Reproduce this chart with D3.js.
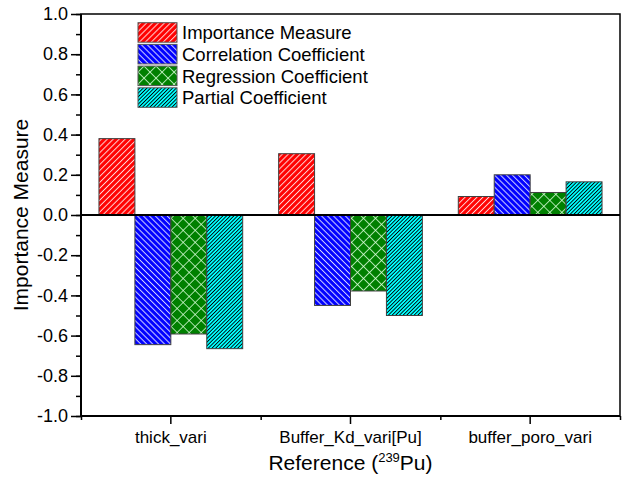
<!DOCTYPE html>
<html>
<head>
<meta charset="utf-8">
<script src="https://cdn.jsdelivr.net/npm/d3@7"></script>
<style>
  body { margin: 0; background: #fff; }
  text { font-family: "Liberation Sans", Arial, sans-serif; fill: #000; }
</style>
</head>
<body>
<div id="chart"></div>
<script>
// Data
const categories = ["thick_vari", "Buffer_Kd_vari[Pu]", "buffer_poro_vari"];
const series = ["Importance Measure", "Correlation Coefficient", "Regression Coefficient", "Partial Coefficient"];
const importance = [0.38, 0.305, 0.092];
const correlation = [-0.645, -0.45, 0.2];
const regression = [-0.592, -0.378, 0.112];
const partial = [-0.665, -0.5, 0.165];
const yTicks = [-1.0, -0.8, -0.6, -0.4, -0.2, 0.0, 0.2, 0.4, 0.6, 0.8, 1.0];
const yTickLabels = ["-1.0", "-0.8", "-0.6", "-0.4", "-0.2", "0.0", "0.2", "0.4", "0.6", "0.8", "1.0"];

const values = [importance, correlation, regression, partial];
const fills = ["#ff0000", "#0000ff", "#008000", "#00ffff"];

const W = 624, H = 486;
const margin = {top: 14, right: 4, bottom: 70, left: 81};
const width = W - margin.left - margin.right;
const height = H - margin.top - margin.bottom;

const svg = d3.select("#chart").append("svg")
    .attr("width", W)
    .attr("height", H);

// hatch patterns
const defs = svg.append("defs");
function hatch(id, bg, line, spacing, angle, lw) {
    const p = defs.append("pattern")
        .attr("id", id)
        .attr("patternUnits", "userSpaceOnUse")
        .attr("width", spacing)
        .attr("height", spacing)
        .attr("patternTransform", "rotate(" + angle + ")");
    p.append("rect").attr("width", spacing).attr("height", spacing).attr("fill", bg);
    p.append("line")
        .attr("x1", spacing / 2).attr("y1", 0)
        .attr("x2", spacing / 2).attr("y2", spacing)
        .attr("stroke", line).attr("stroke-width", lw);
}
hatch("p0", fills[0], "rgba(255,255,255,0.85)", 4.2, 45, 1);
hatch("p1", fills[1], "rgba(255,255,255,0.85)", 4.2, -45, 1);
hatch("p3", fills[3], "#000", 2.6, 45, 0.9);
// crosshatch for green
const pc = defs.append("pattern")
    .attr("id", "p2")
    .attr("patternUnits", "userSpaceOnUse")
    .attr("width", 8.5)
    .attr("height", 8.5)
    .attr("patternTransform", "rotate(45)");
pc.append("rect").attr("width", 8.5).attr("height", 8.5).attr("fill", fills[2]);
pc.append("line").attr("x1", 4.25).attr("y1", 0).attr("x2", 4.25).attr("y2", 8.5)
    .attr("stroke", "rgba(220,255,220,0.8)").attr("stroke-width", 1);
pc.append("line").attr("x1", 0).attr("y1", 4.25).attr("x2", 8.5).attr("y2", 4.25)
    .attr("stroke", "rgba(220,255,220,0.8)").attr("stroke-width", 1);

const g = svg.append("g")
    .attr("transform", "translate(" + margin.left + "," + margin.top + ")");

// scales
const x0 = d3.scaleBand().domain(categories).range([0, width]).padding(0);
const bw = x0.bandwidth();
const x1 = d3.scaleBand().domain(series).range([bw * 0.1, bw * 0.9]).padding(0);
const xEdge = d3.scaleLinear().domain([0, categories.length]).range([0, width]);
const y = d3.scaleLinear().domain([-1, 1]).range([height, 0]);

// bars
series.forEach((s, si) => {
    g.selectAll(".bar" + si)
        .data(categories)
        .enter().append("rect")
        .attr("x", c => x0(c) + x1(s))
        .attr("width", x1.bandwidth())
        .attr("y", (c, i) => y(Math.max(0, values[si][i])))
        .attr("height", (c, i) => Math.abs(y(values[si][i]) - y(0)))
        .attr("fill", "url(#p" + si + ")")
        .attr("stroke", "#404040")
        .attr("stroke-width", 1);
});

// zero line
g.append("line")
    .attr("x1", 0).attr("x2", width)
    .attr("y1", y(0)).attr("y2", y(0))
    .attr("stroke", "#000").attr("stroke-width", 2);

// y axis (major + minor)
const yMinor = d3.range(-10, 11).map(d => d / 10);
g.append("g")
    .call(d3.axisLeft(y).tickValues(yMinor).tickSize(5).tickFormat(""))
    .call(a => a.select(".domain").remove())
    .selectAll("line").attr("stroke-width", 1.5);
g.append("g")
    .call(d3.axisLeft(y).tickValues(yTicks).tickSize(10).tickPadding(3)
        .tickFormat((d, i) => yTickLabels[i]))
    .call(a => a.select(".domain").remove())
    .call(a => a.selectAll("line").attr("stroke-width", 1.5))
    .selectAll("text")
    .attr("font-size", "18px")
    .attr("font-family", "'Liberation Sans', Arial, sans-serif");

// x axis: minor ticks at group edges, major at centers
g.append("g")
    .attr("transform", "translate(0," + height + ")")
    .call(d3.axisBottom(xEdge).tickValues(d3.range(0, categories.length + 1)).tickSize(4).tickFormat(""))
    .call(a => a.select(".domain").remove())
    .selectAll("line").attr("stroke-width", 1.5);
g.append("g")
    .attr("transform", "translate(0," + height + ")")
    .call(d3.axisBottom(x0).tickSize(8).tickPadding(7))
    .call(a => a.select(".domain").remove())
    .call(a => a.selectAll("line").attr("stroke-width", 1.5))
    .selectAll("text")
    .attr("font-size", "17px")
    .attr("font-family", "'Liberation Sans', Arial, sans-serif");

// frame
g.append("rect")
    .attr("width", width).attr("height", height)
    .attr("fill", "none").attr("stroke", "#000").attr("stroke-width", 1.5);
g.append("path")
    .attr("d", "M0,0V" + height + "H" + width)
    .attr("fill", "none").attr("stroke", "#000").attr("stroke-width", 2);

// axis titles
svg.append("text")
    .attr("transform", "translate(28," + (margin.top + height / 2) + ") rotate(-90)")
    .attr("text-anchor", "middle")
    .attr("font-size", "21px")
    .text("Importance Measure");

const xt = svg.append("text")
    .attr("x", margin.left + width / 2)
    .attr("y", 470)
    .attr("text-anchor", "middle")
    .attr("font-size", "21px");
xt.append("tspan").text("Reference (");
xt.append("tspan").attr("font-size", "13px").attr("dy", "-8").text("239");
xt.append("tspan").attr("dy", "8").text("Pu)");

// legend
const legend = svg.append("g").attr("transform", "translate(138,22.7)");
series.forEach((s, i) => {
    const row = legend.append("g").attr("transform", "translate(0," + (i * 21.7) + ")");
    row.append("rect")
        .attr("width", 39).attr("height", 19.5)
        .attr("fill", "url(#p" + i + ")")
        .attr("stroke", "#555").attr("stroke-width", 1);
    row.append("text")
        .attr("x", 44).attr("y", 9.75).attr("dy", "0.36em")
        .attr("font-size", "18.5px")
        .text(s);
});
</script>
</body>
</html>
